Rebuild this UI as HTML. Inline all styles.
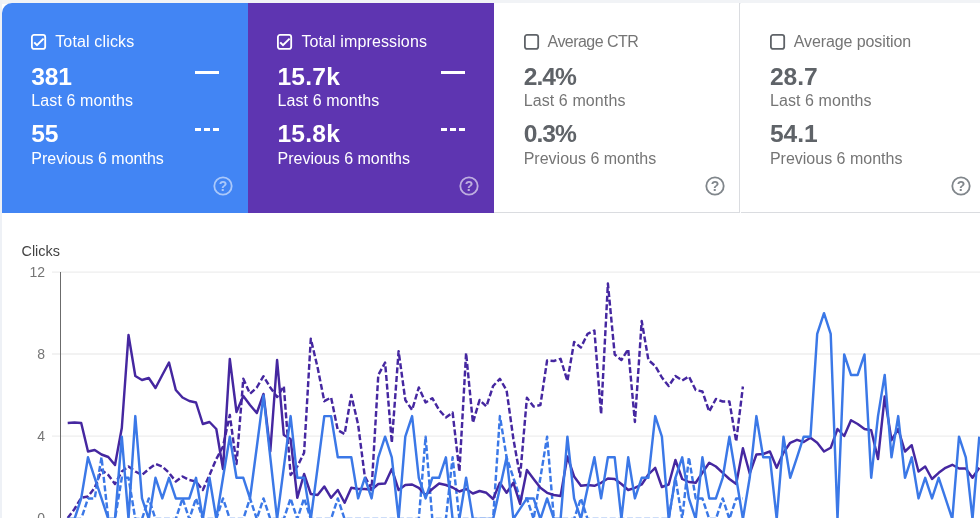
<!DOCTYPE html>
<html><head><meta charset="utf-8">
<style>
html,body{margin:0;padding:0}
body{width:980px;height:518px;overflow:hidden;background:#fff;position:relative;font-family:"Liberation Sans",Arial,sans-serif}
#topbg{position:absolute;left:0;top:0;width:980px;height:4px;background:#f1f3f6}
#leftbg{position:absolute;left:0;top:0;width:1.6px;height:518px;background:#eef1f6}
.card{position:absolute;top:3px;height:209.5px;width:246px;box-sizing:border-box}
.c1{left:2px;width:246.5px;background:#4285f4;border-top-left-radius:10px;color:#fff}
.c2{left:248.2px;width:246.4px;background:#5e35b1;color:#fff}
.c3{left:494.4px;background:#fff;border-bottom:1px solid #dadce0;border-right:1px solid #dadce0;color:#757575}
.c4{left:740.6px;background:#fff;border-bottom:1px solid #dadce0;color:#757575}
.card div{position:absolute;white-space:nowrap}
.cb{left:29.3px;top:31.2px;width:16px;height:17px}
.cb svg{position:absolute;left:0;top:0}
.lbl{left:53.2px;top:29px;font-size:16px;line-height:20px;letter-spacing:0.15px}
.n1{left:29.3px;top:59px;font-size:24.6px;line-height:30px;font-weight:bold}
.s1{left:29.3px;top:88.2px;font-size:16px;line-height:20px;letter-spacing:0.1px}
.n2{left:29.3px;top:116px;font-size:24.6px;line-height:30px;font-weight:bold}
.s2{left:29.3px;top:145.6px;font-size:16px;line-height:20px}
.c3 .n1,.c3 .n2,.c4 .n1,.c4 .n2{color:#5f6368}
.c1 .n1,.c1 .n2{letter-spacing:-0.2px}
.c2 .n1,.c2 .n2{letter-spacing:0.2px}
.c3 .n1,.c3 .n2{letter-spacing:-0.95px}
.c2 .lbl{letter-spacing:0.12px}
.c3 .lbl{letter-spacing:-0.55px}
.c4 .lbl{letter-spacing:-0.1px}
.m1{left:193px;top:67.5px;width:24px;height:3px;background:#fff}
.m2{left:193px;top:124.7px;width:24px;height:3px;background:linear-gradient(90deg,#fff 0 6px,transparent 6px 9px,#fff 9px 15px,transparent 15px 18px,#fff 18px 24px)}
.q{left:209.8px;top:171.7px;width:22px;height:22px}
svg{position:absolute;left:0;top:0}
.ax{font-size:14px;fill:#757575}
</style></head><body>
<div id="topbg"></div><div id="leftbg"></div>
<div class="card c1"><div class="cb"><svg width="16" height="17" viewBox="0 0 16 17"><rect x="0.9" y="0.9" width="13.3" height="14" rx="2.2" fill="none" stroke="#fff" stroke-width="1.8"/><path d="M3.2 8.4 L6 11.2 L12.6 4.6" fill="none" stroke="#fff" stroke-width="2"/></svg></div><div class="lbl">Total clicks</div><div class="n1">381</div><div class="s1">Last 6 months</div><div class="n2">55</div><div class="s2">Previous 6 months</div><div class="m1"></div><div class="m2"></div><div class="q"><svg width="22" height="22" viewBox="0 0 22 22"><g opacity="0.55"><circle cx="11" cy="11" r="8.7" fill="none" stroke="#fff" stroke-width="1.8"/><text x="11" y="16" text-anchor="middle" font-family="Liberation Sans, sans-serif" font-weight="bold" font-size="14" fill="#fff">?</text></g></svg></div></div>
<div class="card c2"><div class="cb"><svg width="16" height="17" viewBox="0 0 16 17"><rect x="0.9" y="0.9" width="13.3" height="14" rx="2.2" fill="none" stroke="#fff" stroke-width="1.8"/><path d="M3.2 8.4 L6 11.2 L12.6 4.6" fill="none" stroke="#fff" stroke-width="2"/></svg></div><div class="lbl">Total impressions</div><div class="n1">15.7k</div><div class="s1">Last 6 months</div><div class="n2">15.8k</div><div class="s2">Previous 6 months</div><div class="m1"></div><div class="m2"></div><div class="q"><svg width="22" height="22" viewBox="0 0 22 22"><g opacity="0.6"><circle cx="11" cy="11" r="8.7" fill="none" stroke="#fff" stroke-width="1.8"/><text x="11" y="16" text-anchor="middle" font-family="Liberation Sans, sans-serif" font-weight="bold" font-size="14" fill="#fff">?</text></g></svg></div></div>
<div class="card c3"><div class="cb"><svg width="16" height="17" viewBox="0 0 16 17"><rect x="0.9" y="0.9" width="13.3" height="14" rx="2.2" fill="none" stroke="#5f6368" stroke-width="1.8"/></svg></div><div class="lbl">Average CTR</div><div class="n1">2.4%</div><div class="s1">Last 6 months</div><div class="n2">0.3%</div><div class="s2">Previous 6 months</div><div class="q"><svg width="22" height="22" viewBox="0 0 22 22"><g opacity="1"><circle cx="11" cy="11" r="8.7" fill="none" stroke="#80868b" stroke-width="1.8"/><text x="11" y="16" text-anchor="middle" font-family="Liberation Sans, sans-serif" font-weight="bold" font-size="14" fill="#80868b">?</text></g></svg></div></div>
<div class="card c4"><div class="cb"><svg width="16" height="17" viewBox="0 0 16 17"><rect x="0.9" y="0.9" width="13.3" height="14" rx="2.2" fill="none" stroke="#5f6368" stroke-width="1.8"/></svg></div><div class="lbl">Average position</div><div class="n1">28.7</div><div class="s1">Last 6 months</div><div class="n2">54.1</div><div class="s2">Previous 6 months</div><div class="q"><svg width="22" height="22" viewBox="0 0 22 22"><g opacity="1"><circle cx="11" cy="11" r="8.7" fill="none" stroke="#80868b" stroke-width="1.8"/><text x="11" y="16" text-anchor="middle" font-family="Liberation Sans, sans-serif" font-weight="bold" font-size="14" fill="#80868b">?</text></g></svg></div></div>
<svg width="980" height="518" viewBox="0 0 980 518">
<g id="grid" stroke="#eeeeee" stroke-width="1.3">
<line x1="52" y1="272.2" x2="980" y2="272.2"/>
<line x1="52" y1="354" x2="980" y2="354"/>
<line x1="52" y1="436.2" x2="980" y2="436.2"/>
</g>
<line x1="60.5" y1="272" x2="60.5" y2="518" stroke="#6b6b6b" stroke-width="1"/>
<text x="21.5" y="256" font-size="14.4" fill="#424242" font-family="Liberation Sans">Clicks</text>
<text class="ax" x="45" y="276.5" text-anchor="end">12</text>
<text class="ax" x="45" y="359" text-anchor="end">8</text>
<text class="ax" x="45" y="441" text-anchor="end">4</text>
<text class="ax" x="45" y="523" text-anchor="end">0</text>
<!--LINES-->
<g fill="none" stroke-width="2.45" stroke-linejoin="round">
<polyline stroke="#4527a0" stroke-dasharray="6,2.6" points="67.7,518.0 74.5,509.0 81.2,497.8 88.0,496.5 94.7,487.8 101.5,470.0 108.3,475.0 115.0,484.0 121.8,471.5 128.5,466.5 135.3,471.5 142.0,475.0 148.8,469.0 155.5,464.0 162.3,466.5 169.0,472.8 175.8,481.5 182.5,476.5 189.3,480.0 196.0,481.5 202.8,490.0 209.5,475.0 216.3,459.0 223.0,446.5 229.8,415.0 236.5,464.0 243.3,378.8 250.0,393.8 256.8,387.5 263.5,376.2 270.3,387.5 277.1,397.0 283.8,386.2 290.6,475.0 297.3,466.5 304.1,452.8 310.8,338.8 317.6,367.5 324.3,401.2 331.1,397.5 337.8,430.2 344.6,434.0 351.3,395.0 358.1,424.5 364.8,476.5 371.6,489.0 378.3,375.0 385.1,362.5 391.8,442.8 398.6,351.2 405.3,400.0 412.1,410.0 418.8,387.5 425.6,402.5 432.3,398.2 439.1,410.0 445.9,417.5 452.6,412.5 459.4,471.5 466.1,353.0 472.9,422.8 479.6,400.0 486.4,406.5 493.1,386.0 499.9,378.8 506.6,390.5 513.4,439.0 520.1,476.5 526.9,397.8 533.6,406.5 540.4,405.0 547.1,360.5 553.9,361.0 560.6,358.8 567.4,381.0 574.1,342.0 580.9,347.5 587.6,333.8 594.4,330.5 601.1,414.0 607.9,283.5 614.7,354.5 621.4,360.0 628.2,349.2 634.9,422.0 641.7,321.0 648.4,360.0 655.2,366.0 661.9,377.5 668.7,386.0 675.4,376.0 682.2,380.5 688.9,376.5 695.7,390.0 702.4,391.5 709.2,411.5 715.9,399.0 722.7,401.5 729.4,401.5 736.2,441.5 742.9,386.5"/>
<polyline stroke="#3b78e7" stroke-dasharray="6,2.6" points="67.7,519.0 74.5,519.0 81.2,519.0 88.0,498.4 94.7,498.4 101.5,457.3 108.3,519.0 115.0,519.0 121.8,477.8 128.5,477.8 135.3,519.0 142.0,519.0 148.8,498.4 155.5,519.0 162.3,519.0 169.0,519.0 175.8,519.0 182.5,498.4 189.3,519.0 196.0,498.4 202.8,519.0 209.5,519.0 216.3,519.0 223.0,498.4 229.8,519.0 236.5,519.0 243.3,519.0 250.0,498.4 256.8,519.0 263.5,498.4 270.3,519.0 277.1,519.0 283.8,519.0 290.6,498.4 297.3,519.0 304.1,498.4 310.8,519.0 317.6,519.0 324.3,519.0 331.1,519.0 337.8,498.4 344.6,519.0 351.3,519.0 358.1,519.0 364.8,519.0 371.6,519.0 378.3,519.0 385.1,519.0 391.8,519.0 398.6,519.0 405.3,519.0 412.1,519.0 418.8,519.0 425.6,436.7 432.3,519.0 439.1,519.0 445.9,519.0 452.6,457.3 459.4,519.0 466.1,519.0 472.9,519.0 479.6,519.0 486.4,519.0 493.1,519.0 499.9,416.1 506.6,457.3 513.4,477.8 520.1,498.4 526.9,498.4 533.6,519.0 540.4,477.8 547.1,436.7 553.9,519.0 560.6,519.0 567.4,519.0 574.1,519.0 580.9,498.4 587.6,519.0 594.4,519.0 601.1,519.0 607.9,519.0 614.7,519.0 621.4,519.0 628.2,519.0 634.9,519.0 641.7,519.0 648.4,519.0 655.2,519.0 661.9,519.0 668.7,519.0 675.4,477.8 682.2,519.0 688.9,457.3 695.7,498.4 702.4,498.4 709.2,519.0 715.9,519.0 722.7,498.4 729.4,519.0 736.2,498.4 742.9,498.4"/>
<polyline stroke="#4527a0" points="67.7,423.0 74.5,422.5 81.2,423.0 88.0,451.5 94.7,450.0 101.5,454.5 108.3,457.0 115.0,465.0 121.8,428.0 128.5,335.0 135.3,376.0 142.0,380.0 148.8,378.0 155.5,388.0 162.3,375.0 169.0,362.5 175.8,390.0 182.5,397.5 189.3,401.0 196.0,402.5 202.8,424.0 209.5,422.0 216.3,429.0 223.0,469.0 229.8,359.0 236.5,412.0 243.3,396.0 250.0,405.0 256.8,413.0 263.5,394.0 270.3,451.5 277.1,360.0 283.8,435.0 290.6,439.0 297.3,497.8 304.1,474.0 310.8,494.0 317.6,495.0 324.3,486.5 331.1,497.8 337.8,490.0 344.6,502.8 351.3,487.8 358.1,489.0 364.8,489.0 371.6,489.8 378.3,484.0 385.1,483.5 391.8,469.0 398.6,490.0 405.3,485.0 412.1,484.5 418.8,487.8 425.6,495.0 432.3,489.0 439.1,483.5 445.9,485.0 452.6,487.5 459.4,491.5 466.1,489.0 472.9,493.5 479.6,491.0 486.4,492.8 493.1,499.0 499.9,482.8 506.6,492.8 513.4,482.8 520.1,504.0 526.9,470.0 533.6,479.0 540.4,487.8 547.1,492.8 553.9,495.0 560.6,496.0 567.4,456.5 574.1,476.5 580.9,485.8 587.6,485.0 594.4,485.8 601.1,482.8 607.9,478.5 614.7,479.0 621.4,484.0 628.2,490.0 634.9,487.8 641.7,484.5 648.4,474.5 655.2,467.8 661.9,487.0 668.7,484.5 675.4,460.0 682.2,479.0 688.9,482.0 695.7,482.8 702.4,472.8 709.2,462.8 715.9,466.5 722.7,472.8 729.4,479.0 736.2,484.0 742.9,448.2 749.7,473.5 756.4,454.5 763.2,454.0 769.9,451.5 776.7,467.8 783.5,452.8 790.2,442.8 797.0,439.8 803.7,442.0 810.5,437.8 817.2,442.8 824.0,451.5 830.7,447.8 837.5,429.0 844.2,436.0 851.0,420.2 857.7,424.0 864.5,429.0 871.2,430.2 878.0,459.0 884.7,396.5 891.5,440.2 898.2,429.0 905.0,451.5 911.7,445.2 918.5,471.5 925.2,466.5 932.0,479.0 938.7,472.8 945.5,467.8 952.3,464.8 959.0,468.5 965.8,468.5 972.5,477.8 979.3,467.8"/>
<polyline stroke="#3b78e7" points="67.7,519.0 74.5,519.0 81.2,498.4 88.0,457.3 94.7,477.8 101.5,498.4 108.3,519.0 115.0,519.0 121.8,436.7 128.5,519.0 135.3,416.1 142.0,498.4 148.8,519.0 155.5,477.8 162.3,498.4 169.0,477.8 175.8,498.4 182.5,498.4 189.3,498.4 196.0,477.8 202.8,519.0 209.5,477.8 216.3,519.0 223.0,477.8 229.8,436.7 236.5,477.8 243.3,477.8 250.0,498.4 256.8,447.0 263.5,395.5 270.3,457.3 277.1,519.0 283.8,467.6 290.6,416.1 297.3,477.8 304.1,477.8 310.8,519.0 317.6,467.6 324.3,416.1 331.1,416.1 337.8,457.3 344.6,457.3 351.3,457.3 358.1,498.4 364.8,477.8 371.6,498.4 378.3,457.3 385.1,436.7 391.8,457.3 398.6,519.0 405.3,436.7 412.1,416.1 418.8,477.8 425.6,498.4 432.3,477.8 439.1,477.8 445.9,457.3 452.6,519.0 459.4,519.0 466.1,477.8 472.9,519.0 479.6,519.0 486.4,519.0 493.1,519.0 499.9,488.1 506.6,457.3 513.4,519.0 520.1,508.7 526.9,498.4 533.6,498.4 540.4,519.0 547.1,498.4 553.9,519.0 560.6,519.0 567.4,436.7 574.1,498.4 580.9,519.0 587.6,488.1 594.4,457.3 601.1,498.4 607.9,457.3 614.7,457.3 621.4,519.0 628.2,457.3 634.9,498.4 641.7,477.8 648.4,477.8 655.2,416.1 661.9,436.7 668.7,519.0 675.4,477.8 682.2,457.3 688.9,498.4 695.7,519.0 702.4,457.3 709.2,498.4 715.9,498.4 722.7,477.8 729.4,436.7 736.2,477.8 742.9,519.0 749.7,477.8 756.4,416.1 763.2,457.3 769.9,457.3 776.7,519.0 783.5,436.7 790.2,477.8 797.0,457.3 803.7,436.7 810.5,436.7 817.2,333.8 824.0,313.2 830.7,333.8 837.5,519.0 844.2,354.4 851.0,374.9 857.7,374.9 864.5,354.4 871.2,477.8 878.0,416.1 884.7,374.9 891.5,457.3 898.2,416.1 905.0,477.8 911.7,457.3 918.5,498.4 925.2,477.8 932.0,498.4 938.7,477.8 945.5,498.4 952.3,519.0 959.0,436.7 965.8,457.3 972.5,519.0 979.3,436.7"/>
</g>
<!--/LINES-->
</svg>
</body></html>
